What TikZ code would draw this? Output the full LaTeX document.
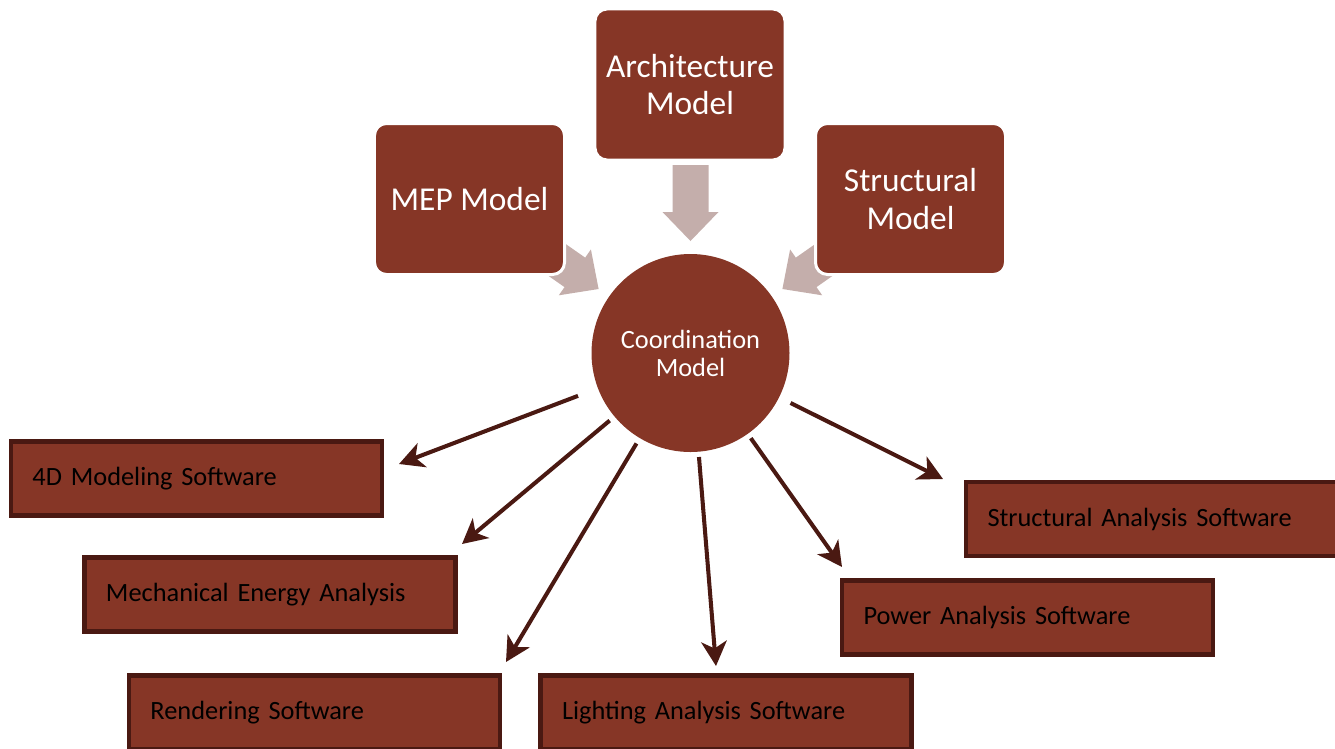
\documentclass[tikz,border=0pt]{standalone}
\usepackage{fontspec}
\setmainfont{Carlito}
\usepackage{tikz}
\usepackage{xcolor}
\usetikzlibrary{positioning, arrows.meta}
\definecolor{bimred}{RGB}{134, 54, 38}
\definecolor{bimdark}{RGB}{74, 25, 18}
\definecolor{bimgray}{RGB}{196, 174, 171}
\tikzset{
    modelnode/.style={rectangle, rounded corners=0.24cm, fill=bimred, draw=white, line width=1.7pt, minimum width=3.8cm, minimum height=3.02cm, align=center, text=white, font=\fontsize{19}{21.5}\selectfont},
    hubnode/.style={circle, fill=bimred, minimum size=3.96cm, align=center, text=white, font=\fontsize{15}{16}\selectfont},
    toolnode/.style={rectangle, fill=bimred, draw=bimdark, line width=2.8pt, text width=6.56cm, inner xsep=0.43cm, minimum height=1.48cm, align=left, text=black, font=\fontsize{15}{18}\selectfont},
    feedarrow/.style={fill=bimgray},
    outarrow/.style={draw=bimdark, line width=2.3pt, -{Stealth[length=14pt, width=14.5pt, inset=4pt]}}
}

\begin{document}
\begin{tikzpicture}[x=0.2mm, y=-0.2mm]
    \useasboundingbox (0,0) rectangle (1335,748);
    % block arrows into the hub
    \foreach \ang/\tx/\ty in {0/690.5/241, 55/598.6/289, -55/782.4/289}
        \fill[feedarrow, shift={(\tx,\ty)}, rotate=\ang] (-18,-76) -- (18,-76) -- (18,-29) -- (28,-29) -- (0,0) -- (-28,-29) -- (-18,-29) -- cycle;
    \node[modelnode] (arch) at (690, 84.5) {Architecture\\Model};
    \node[modelnode] (mep) at (469.5, 199) {MEP Model};
    \node[modelnode] (strm) at (910.5, 199) {Structural\\Model};
    \node[hubnode] (coord) at (690.5, 353) {Coordination\\Model};
    % software boxes
    \node[toolnode] (sw4d) at (196.5, 478.5) {4D Modeling Software};
    \node[toolnode] (mech) at (270, 594.5) {Mechanical Energy Analysis};
    \node[toolnode] (rend) at (314.5, 712.5) {Rendering Software};
    \node[toolnode] (light) at (726, 712.5) {Lighting Analysis Software};
    \node[toolnode] (power) at (1027.5, 617.5) {Power Analysis Software};
    \node[toolnode] (stran) at (1151.5, 519) {Structural Analysis Software};
    \coordinate (t4d) at (399, 464);
    \coordinate (tmech) at (462, 544);
    \coordinate (trend) at (506, 662);
    \coordinate (tlight) at (716, 666);
    \coordinate (tpower) at (842, 567);
    \coordinate (tstran) at (943, 479);
    \foreach \t/\s in {t4d/0.42, tmech/0.12, trend/0.12, tlight/0.1, tpower/0.1, tstran/0.25}
        \draw[outarrow, shorten <=\s cm] (coord) -- (\t);
\end{tikzpicture}
\end{document}
